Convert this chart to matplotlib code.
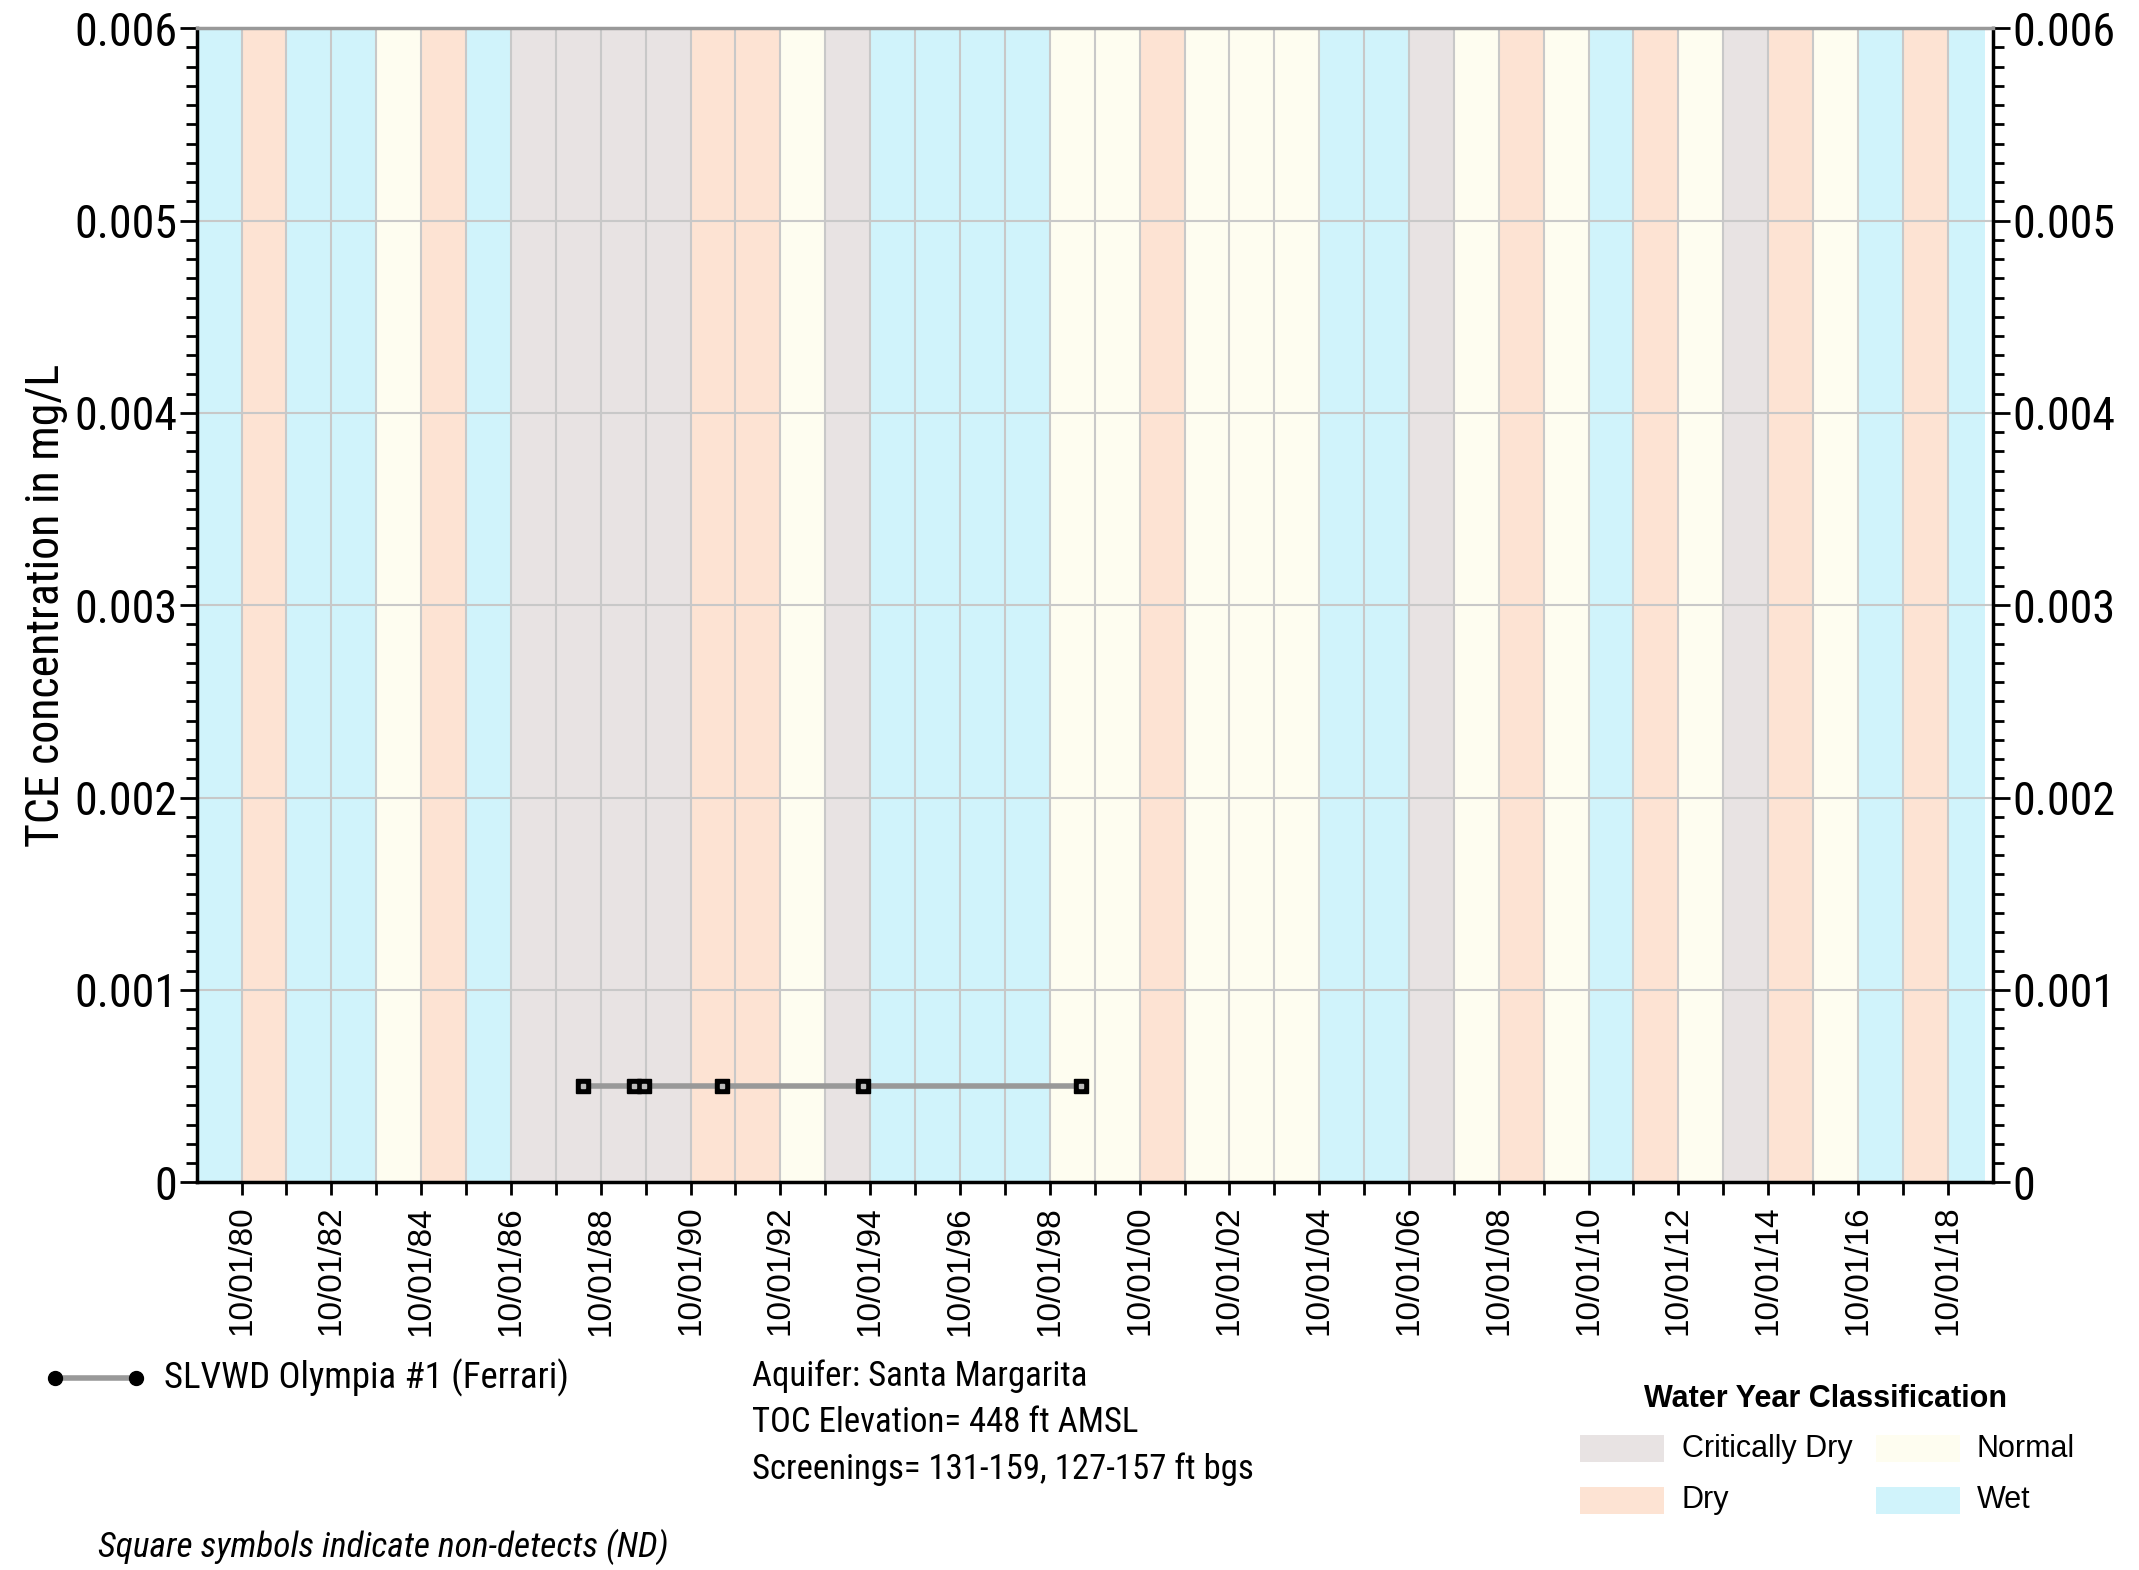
import matplotlib
matplotlib.use("Agg")
import matplotlib.pyplot as plt
import matplotlib.dates as mdates
from matplotlib import font_manager as fm
from matplotlib.patches import Rectangle
from matplotlib.lines import Line2D
from matplotlib.ticker import MultipleLocator, FixedLocator, FuncFormatter
import datetime as dt

# ---- data ----
water_years = list(range(1980, 2020))  # water year N runs 10/01/(N-1) .. 10/01/N
wy_class = ["Wet", "Dry", "Wet", "Wet", "Normal", "Dry", "Wet", "Critically Dry",
            "Critically Dry", "Critically Dry", "Critically Dry", "Dry", "Dry", "Normal",
            "Critically Dry", "Wet", "Wet", "Wet", "Wet", "Normal", "Normal", "Dry",
            "Normal", "Normal", "Normal", "Wet", "Wet", "Critically Dry", "Normal", "Dry",
            "Normal", "Wet", "Dry", "Normal", "Critically Dry", "Dry", "Normal", "Wet",
            "Dry", "Wet"]
sample_dates = ["1988-05-10", "1989-06-25", "1989-09-20", "1991-06-15", "1994-08-05", "1999-06-10"]
tce_values = [0.0005, 0.0005, 0.0005, 0.0005, 0.0005, 0.0005]
series_name = "SLVWD Olympia #1 (Ferrari)"
class_colors = {"Critically Dry": "#e8e3e3", "Dry": "#fde3d3", "Normal": "#fefdf0", "Wet": "#d0f3fb"}
legend_order = ["Critically Dry", "Normal", "Dry", "Wet"]
info_lines = ["Aquifer: Santa Margarita", "TOC Elevation= 448 ft AMSL",
              "Screenings= 131-159, 127-157 ft bgs"]

# pick a condensed font if one exists
avail = {}
for f in fm.fontManager.ttflist:
    avail.setdefault(f.name, set()).add(str(f.stretch))
cond = None
for name in ["Liberation Sans Narrow", "Arial Narrow", "Roboto Condensed", "Open Sans Condensed",
             "DejaVu Sans Condensed", "Noto Sans Condensed"]:
    if name in avail:
        cond = (name, "normal")
        break
if cond is None:
    for name in ["DejaVu Sans", "Noto Sans", "Open Sans", "Roboto", "Inter"]:
        if name in avail:
            st = [s for s in avail[name] if s != "normal" and s not in ("expanded", "semi-expanded")]
            if st:
                cond = (name, "condensed")
                break
if cond is None:
    cond = ("Liberation Sans", "normal")
NARROW = [cond[0], "DejaVu Sans"]
STRETCH = cond[1]
REG = ["Liberation Sans", "DejaVu Sans"]

fig = plt.figure(figsize=(21.39, 15.70), dpi=100)
ax = fig.add_axes([0.0919, 0.247, 0.8397, 0.735])

xmin = mdates.date2num(dt.datetime(1979, 10, 1))
xmax = mdates.date2num(dt.datetime(2019, 10, 1))

for wy, c in zip(water_years, wy_class):
    s = mdates.date2num(dt.datetime(wy - 1, 10, 1))
    e = mdates.date2num(dt.datetime(wy, 10, 1))
    if wy == water_years[-1]:
        e = mdates.date2num(dt.datetime(2019, 8, 1))
    ax.axvspan(s, e, color=class_colors[c], lw=0, zorder=0)

for wy in water_years[:-1]:
    ax.axvline(mdates.date2num(dt.datetime(wy, 10, 1)), color="#c8c8c8", lw=1.5, zorder=1)
for yv in [0.001, 0.002, 0.003, 0.004, 0.005]:
    ax.axhline(yv, color="#c8c8c8", lw=1.5, zorder=1)

xd = [mdates.date2num(dt.datetime.strptime(d, "%Y-%m-%d")) for d in sample_dates]
ax.plot(xd, tce_values, color="#999999", lw=4, zorder=3)
ax.plot(xd, tce_values, ls="none", marker="s", ms=10, mfc="black", mec="black", zorder=4)
ax.plot(xd, tce_values, ls="none", marker="s", ms=2.2, mfc="#bbbbbb", mec="#bbbbbb", zorder=5)

ax.set_xlim(xmin, xmax)
ax.set_ylim(0, 0.006)

major_x = [mdates.date2num(dt.datetime(y, 10, 1)) for y in range(1980, 2019, 2)]
minor_x = [mdates.date2num(dt.datetime(y, 10, 1)) for y in range(1981, 2019, 2)]
ax.xaxis.set_major_locator(FixedLocator(major_x))
ax.xaxis.set_minor_locator(FixedLocator(minor_x))
ax.xaxis.set_major_formatter(FuncFormatter(lambda v, p: mdates.num2date(v).strftime("%m/%d/%y")))
ax.tick_params(axis="x", which="both", length=9, width=2, direction="out", pad=8)
ax.tick_params(axis="x", labelsize=24, labelrotation=90)

ax.yaxis.set_major_locator(MultipleLocator(0.001))
ax.yaxis.set_minor_locator(MultipleLocator(0.0001))
ax.yaxis.set_major_formatter(FuncFormatter(lambda v, p: "0" if abs(v) < 1e-12 else ("%.3f" % v)))
ax.tick_params(axis="y", which="major", length=12, width=2, direction="out", labelsize=33, pad=2,
               left=True, right=True, labelleft=True, labelright=True)
ax.tick_params(axis="y", which="minor", length=8, width=2, direction="out", left=True, right=True)

fig.canvas.draw()
for t in ax.xaxis.get_major_ticks():
    t.label1.set_fontfamily(REG)
for t in ax.yaxis.get_major_ticks():
    for lab in (t.label1, t.label2):
        lab.set_fontfamily(NARROW)
        lab.set_fontstretch(STRETCH)

for sp in ax.spines.values():
    sp.set_linewidth(2.5)
    sp.set_color("black")
    sp.set_zorder(6)
ax.spines["top"].set_color("#999999")

ax.set_ylabel("TCE concentration in mg/L", fontsize=33, family=NARROW, stretch=STRETCH, labelpad=4)

S = 1.364
def fx(x):
    return x * S / 2139
def fy(y):
    return 1 - y * S / 1570

ly = fy(1010)
fig.add_artist(Line2D([fx(40), fx(100)], [ly, ly], color="#999999", lw=4,
                      marker="o", ms=10, mfc="black", mec="black", markevery=[0, 1],
                      transform=fig.transFigure))
fig.text(fx(120), ly, series_name, fontsize=26.5, family=NARROW, stretch=STRETCH, va="center", ha="left")

for i, t in enumerate(info_lines):
    fig.text(fx(551), fy(1009 + i * 34), t, fontsize=25, family=NARROW, stretch=STRETCH,
             va="center", ha="left")

fig.text(fx(72), fy(1134), "Square symbols indicate non-detects (ND)",
         fontsize=25.5, family=NARROW, stretch=STRETCH, style="italic", va="center", ha="left")

fig.text(fx(1338), fy(1026), "Water Year Classification",
         fontsize=22, family=REG, weight="bold", va="center", ha="center")
pos = {"Critically Dry": (1158, 1233, 1062), "Normal": (1375, 1449, 1062),
       "Dry": (1158, 1233, 1100), "Wet": (1375, 1449, 1100)}
for name in legend_order:
    px, tx, yc = pos[name]
    w = fx(62)
    h = 20 * S / 1570
    fig.add_artist(Rectangle((fx(px), fy(yc) - h / 2), w, h, transform=fig.transFigure,
                             color=class_colors[name], lw=0))
    fig.text(fx(tx), fy(yc), name, fontsize=22, family=REG, va="center", ha="left")

fig.savefig("out.png", dpi=100)
